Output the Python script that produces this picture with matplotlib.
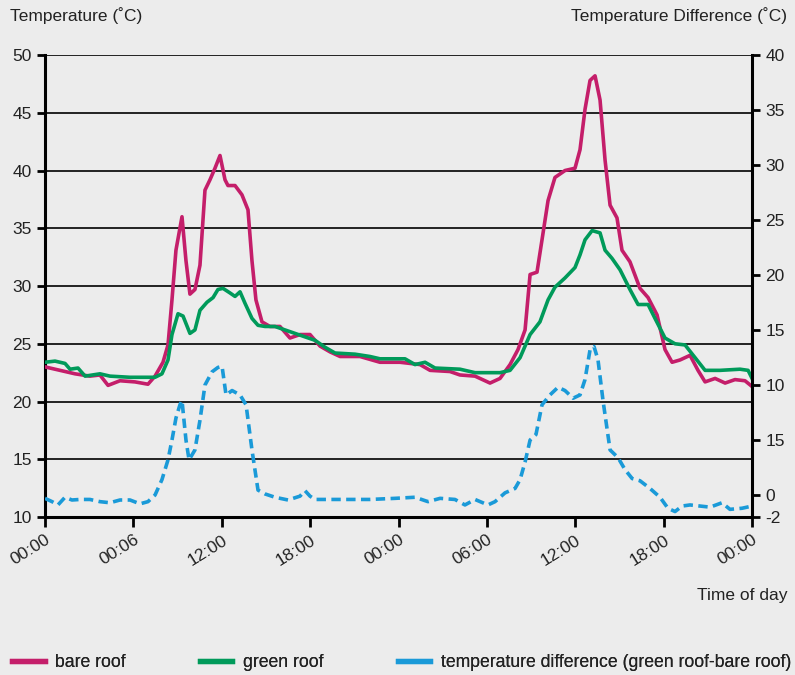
import matplotlib
matplotlib.use("Agg")
import matplotlib.pyplot as plt
from matplotlib.lines import Line2D

plt.rcParams['font.family'] = ['Liberation Sans', 'DejaVu Sans']

# hours since first midnight (0-48)
bare_h = [0.0, 1.02, 2.04, 3.05, 3.73, 4.28, 5.09, 6.11, 6.99, 7.47, 8.01, 8.35, 8.62, 8.89,
          9.30, 9.57, 9.84, 10.18, 10.52, 10.86, 11.2, 11.54, 11.88, 12.22, 12.42, 12.9,
          13.37, 13.78, 14.05, 14.32, 14.73, 15.27, 15.95, 16.63, 17.31, 17.99, 18.67, 19.35,
          20.03, 21.38, 22.74, 24.1, 25.46, 26.14, 27.49, 28.17, 29.19, 30.21, 30.89, 31.57,
          32.11, 32.59, 32.93, 33.4, 33.74, 34.15, 34.62, 35.3, 35.98, 36.32, 36.66, 37.0,
          37.34, 37.68, 38.02, 38.36, 38.83, 39.17, 39.71, 40.39, 40.94, 41.55, 42.09, 42.57,
          43.11, 43.79, 44.33, 44.81, 45.49, 46.17, 46.84, 47.52, 48.0]
bare = [23.0, 22.7, 22.4, 22.2, 22.3, 21.4, 21.8, 21.7, 21.5, 22.2, 23.4, 24.9, 28.8, 33.1,
        36.0, 32.2, 29.3, 29.7, 31.8, 38.3, 39.2, 40.2, 41.3, 39.2, 38.7, 38.7, 37.9, 36.6,
        32.2, 28.8, 26.9, 26.5, 26.5, 25.5, 25.8, 25.8, 24.8, 24.3, 23.9, 23.9, 23.4, 23.4,
        23.2, 22.7, 22.6, 22.3, 22.2, 21.6, 22.0, 23.2, 24.5, 26.2, 31.0, 31.2, 34.0, 37.4,
        39.4, 40.0, 40.2, 41.8, 45.3, 47.8, 48.2, 46.1, 40.9, 37.0, 35.9, 33.1, 32.1, 29.8,
        29.0, 27.5, 24.5, 23.4, 23.6, 24.0, 22.7, 21.7, 22.0, 21.6, 21.9, 21.8, 21.3]

green_h = [0.0, 0.68, 1.36, 1.70, 2.24, 2.72, 3.73, 4.41, 5.77, 7.47, 7.94, 8.35, 8.62, 9.03,
           9.37, 9.84, 10.18, 10.52, 11.0, 11.41, 11.74, 12.08, 12.56, 12.9, 13.24, 13.58,
           14.05, 14.46, 14.94, 15.61, 16.29, 16.97, 17.65, 18.33, 19.01, 19.69, 21.05, 22.06,
           22.74, 24.44, 25.12, 25.80, 26.48, 28.17, 29.19, 30.89, 31.57, 32.25, 32.93, 33.6,
           34.15, 34.62, 35.3, 35.98, 36.32, 36.66, 37.14, 37.68, 38.02, 38.49, 39.04, 39.71,
           40.26, 40.94, 41.41, 42.09, 42.77, 43.45, 44.13, 44.81, 45.83, 47.18, 47.73, 48.0]
green = [23.4, 23.5, 23.3, 22.8, 22.9, 22.2, 22.4, 22.2, 22.1, 22.1, 22.4, 23.6, 25.8, 27.6,
         27.4, 25.9, 26.2, 27.9, 28.6, 29.0, 29.7, 29.8, 29.4, 29.1, 29.5, 28.5, 27.2, 26.6,
         26.5, 26.5, 26.2, 25.9, 25.6, 25.3, 24.7, 24.2, 24.1, 23.9, 23.7, 23.7, 23.2, 23.4,
         22.9, 22.8, 22.5, 22.5, 22.7, 23.8, 25.8, 26.9, 28.8, 29.9, 30.7, 31.6, 32.7, 34.0,
         34.8, 34.6, 33.1, 32.4, 31.4, 29.7, 28.4, 28.4, 27.2, 25.5, 25.0, 24.9, 23.8, 22.7,
         22.7, 22.8, 22.7, 22.0]

diff_h = [0.0, 0.48, 0.88, 1.36, 1.83, 2.38, 3.05, 3.73, 4.41, 5.09, 5.77, 6.45, 6.99, 7.47,
          7.94, 8.35, 8.62, 8.89, 9.16, 9.3, 9.57, 9.78, 10.18, 10.52, 10.86, 11.34, 11.74,
          12.02, 12.29, 12.7, 13.24, 13.65, 14.05, 14.46, 14.94, 15.61, 16.5, 17.31, 17.65,
          17.99, 18.33, 20.03, 22.06, 23.76, 25.12, 26.0, 26.82, 27.83, 28.51, 29.19, 30.07,
          30.55, 31.23, 31.91, 32.25, 32.59, 32.93, 33.33, 33.74, 34.28, 34.83, 35.3, 35.85,
          36.32, 36.66, 37.0, 37.27, 37.54, 37.88, 38.36, 38.9, 39.38, 39.86, 40.39, 41.07,
          41.75, 42.29, 42.77, 43.25, 43.79, 44.47, 45.15, 45.96, 46.5, 47.32, 48.0]
diff = [-0.3, -0.6, -0.9, -0.2, -0.45, -0.4, -0.4, -0.6, -0.7, -0.45, -0.45, -0.8, -0.6, 0.0,
        1.4, 3.2, 5.0, 7.0, 8.2, 8.6, 5.0, 3.2, 4.1, 6.8, 10.0, 11.2, 11.6, 11.7, 9.1, 9.5,
        9.1, 8.2, 4.1, 0.45, 0.1, -0.2, -0.45, -0.1, 0.4, -0.1, -0.4, -0.4, -0.4, -0.3, -0.2,
        -0.6, -0.3, -0.4, -0.9, -0.4, -0.9, -0.6, 0.2, 0.6, 1.4, 3.0, 5.0, 5.5, 8.2, 9.1, 9.8,
        9.5, 8.8, 9.1, 10.5, 13.2, 13.5, 12.3, 8.6, 4.1, 3.4, 2.3, 1.5, 1.3, 0.6, -0.2, -1.2,
        -1.5, -1.0, -0.9, -1.0, -1.1, -0.7, -1.3, -1.2, -1.0]

x_ticks = [0, 6, 12, 18, 24, 30, 36, 42, 48]
x_labels = ['00:00', '00:06', '12:00', '18:00', '00:00', '06:00', '12:00', '18:00', '00:00']
left_ticks = [10, 15, 20, 25, 30, 35, 40, 45, 50]
right_ticks = [-2, 0, 5, 10, 15, 20, 25, 30, 35, 40]
right_labels = ['-2', '0', '15', '10', '15', '20', '25', '30', '35', '40']
legend_labels = ['bare roof', 'green roof', 'temperature difference (green roof-bare roof)']

bg = '#ececec'
c_bare = '#c41e6a'
c_green = '#009a5a'
c_diff = '#1a9ad8'
txt = '#222222'

fig = plt.figure(figsize=(7.95, 6.75), dpi=100, facecolor=bg)
ax = fig.add_axes([0.0566, 0.234, 0.8894, 0.6845])
ax.set_facecolor(bg)
ax2 = ax.twinx()

for y in left_ticks[1:]:
    ax.axhline(y, color='black', lw=1.2, zorder=1)

ax.plot(bare_h, bare, color=c_bare, lw=2.6, zorder=3, solid_joinstyle='round')
ax.plot(green_h, green, color=c_green, lw=2.6, zorder=4, solid_joinstyle='round')
ax2.plot(diff_h, diff, color=c_diff, lw=2.6, dashes=(2.6, 1.5), zorder=3)

ax.set_xlim(0, 48)
ax.set_ylim(10, 50)
ax2.set_ylim(-2, 40)

ax.set_xticks(x_ticks)
ax.set_xticklabels(x_labels, rotation=32, ha='right', rotation_mode='anchor')
ax.set_yticks(left_ticks)
ax2.set_yticks(right_ticks)
ax2.set_yticklabels(right_labels)

for a in (ax, ax2):
    a.spines['top'].set_visible(False)
    for s in ('left', 'right', 'bottom'):
        a.spines[s].set_linewidth(2.2)
        a.spines[s].set_color('black')
    a.tick_params(colors='black', labelcolor=txt, labelsize=12.5, width=2, length=6)
ax.spines['right'].set_visible(False)
ax2.spines['left'].set_visible(False)
ax2.spines['bottom'].set_visible(False)
ax.tick_params(axis='x', length=7, pad=4)

fig.text(0.012, 0.977, 'Temperature (˚C)', ha='left', va='center', fontsize=12.5, color=txt)
fig.text(0.99, 0.977, 'Temperature Difference (˚C)', ha='right', va='center', fontsize=12.5, color=txt)
fig.text(0.99, 0.118, 'Time of day', ha='right', va='center', fontsize=12.5, color=txt)

# one legend per entry so each sits where the reference has it
leg_x = [0.015, 0.251, 0.5]
for lab, col, lx in zip(legend_labels, [c_bare, c_green, c_diff], leg_x):
    h = Line2D([], [], color=col, lw=3.8)
    lg = fig.legend([h], [lab], loc='center left', bbox_to_anchor=(lx, 0.018),
                    frameon=False, fontsize=12.7, handlelength=1.85, handletextpad=0.62,
                    borderpad=0, borderaxespad=0, labelcolor=txt)
    fig.add_artist(lg)

fig.savefig('out.png', dpi=100, facecolor=bg)
